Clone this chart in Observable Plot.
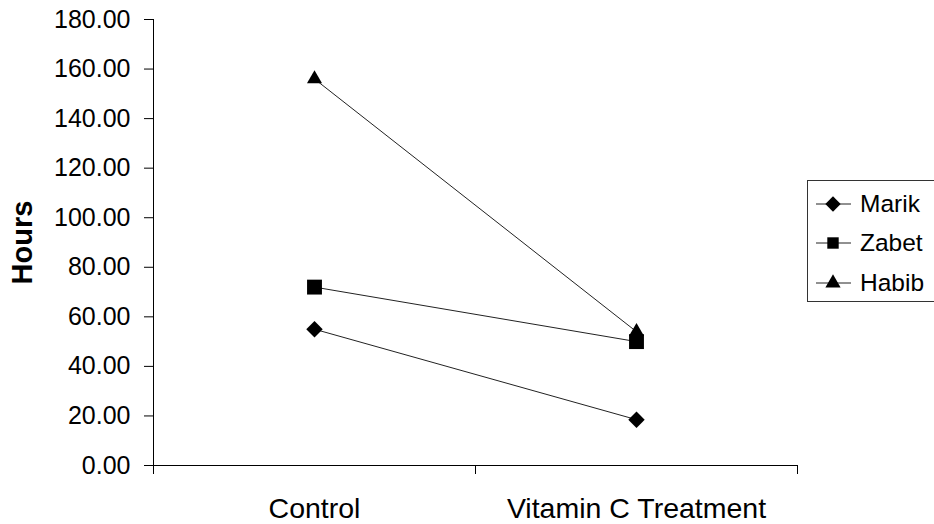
<!DOCTYPE html>
<html>
<head>
<meta charset="utf-8">
<script src="https://cdn.jsdelivr.net/npm/d3@7"></script>
<script src="https://cdn.jsdelivr.net/npm/@observablehq/plot@0.6"></script>
<style>
  html, body { margin: 0; padding: 0; background: #fff; overflow: hidden; }
  #wrap { position: relative; width: 934px; height: 524px; font-family: "Liberation Sans", Arial, sans-serif; }
  #legend { position: absolute; left: 807px; top: 180px; width: 150px; height: 120px; border: 1px solid #333; background: #fff; }
  .row { position: absolute; left: 0; height: 30px; width: 150px; }
  .row svg { position: absolute; left: 0; top: 0; }
  .row span { position: absolute; left: 52px; top: 0; line-height: 30px; font-size: 24.5px; color: #000; }
</style>
</head>
<body>
<div id="wrap"></div>
<script>
const categories = ["Control", "Vitamin C Treatment"];
const series = ["Marik", "Zabet", "Habib"];
const marik = [55, 18.5];
const zabet = [72, 50];
const habib = [156, 54];
const yTicks = [0, 20, 40, 60, 80, 100, 120, 140, 160, 180];
const yLabel = "Hours";
const symbols = ["diamond2", "square", "triangle"];
const radii = [7.4, 8.4, 5.6];

const values = [marik, zabet, habib];
const data = series.flatMap((s, j) =>
  values[j].map((v, i) => ({ name: s, x: i + 0.5, y: v }))
);

const chart = Plot.plot({
  width: 934,
  height: 524,
  marginLeft: 153,
  marginRight: 137,
  marginTop: 19,
  marginBottom: 59,
  style: { fontFamily: "Liberation Sans, Arial, sans-serif", fontSize: "25px", background: "#fff", color: "#000" },
  x: { domain: [0, categories.length] },
  y: { domain: [0, 180] },
  marks: [
    Plot.axisY({ ticks: yTicks, tickFormat: d => d.toFixed(2), tickSize: 9, tickPadding: 14, label: null, fontSize: 25 }),
    Plot.axisX({ ticks: d3.range(categories.length + 1), tickFormat: () => "", tickSize: 9, label: null }),
    Plot.ruleX([0], { stroke: "#000" }),
    Plot.ruleY([0], { stroke: "#000" }),
    Plot.line(data, { x: "x", y: "y", z: "name", stroke: "#222", strokeWidth: 1 }),
    ...series.map((s, j) =>
      Plot.dot(data.filter(d => d.name === s), { x: "x", y: "y", symbol: symbols[j], r: radii[j], fill: "#000", stroke: "none" })
    ),
    Plot.text(categories, { x: (d, i) => i + 0.5, frameAnchor: "bottom", dy: 52, lineAnchor: "bottom", textAnchor: "middle", fontSize: 28.5, fill: "#000" }),
    Plot.text([yLabel], { frameAnchor: "left", dx: -131, rotate: -90, textAnchor: "middle", lineAnchor: "middle", fontWeight: "bold", fontSize: 29, fill: "#000" })
  ]
});

const wrap = document.getElementById("wrap");
wrap.appendChild(chart);

// Legend
const legend = document.createElement("div");
legend.id = "legend";
const d3Symbols = [d3.symbolDiamond2, d3.symbolSquare, d3.symbolTriangle];
const legendSizes = [150, 130, 100];
const rowCenters = [23, 62, 102];
series.forEach((s, j) => {
  const row = document.createElement("div");
  row.className = "row";
  row.style.top = (rowCenters[j] - 15) + "px";
  const svg = d3.create("svg").attr("width", 50).attr("height", 30);
  svg.append("line").attr("x1", 8).attr("x2", 43).attr("y1", 15).attr("y2", 15).attr("stroke", "#222").attr("stroke-width", 1);
  svg.append("path").attr("transform", "translate(25,15)").attr("d", d3.symbol(d3Symbols[j], legendSizes[j])()).attr("fill", "#000");
  row.appendChild(svg.node());
  const span = document.createElement("span");
  span.textContent = s;
  row.appendChild(span);
  legend.appendChild(row);
});
wrap.appendChild(legend);
</script>
</body>
</html>
